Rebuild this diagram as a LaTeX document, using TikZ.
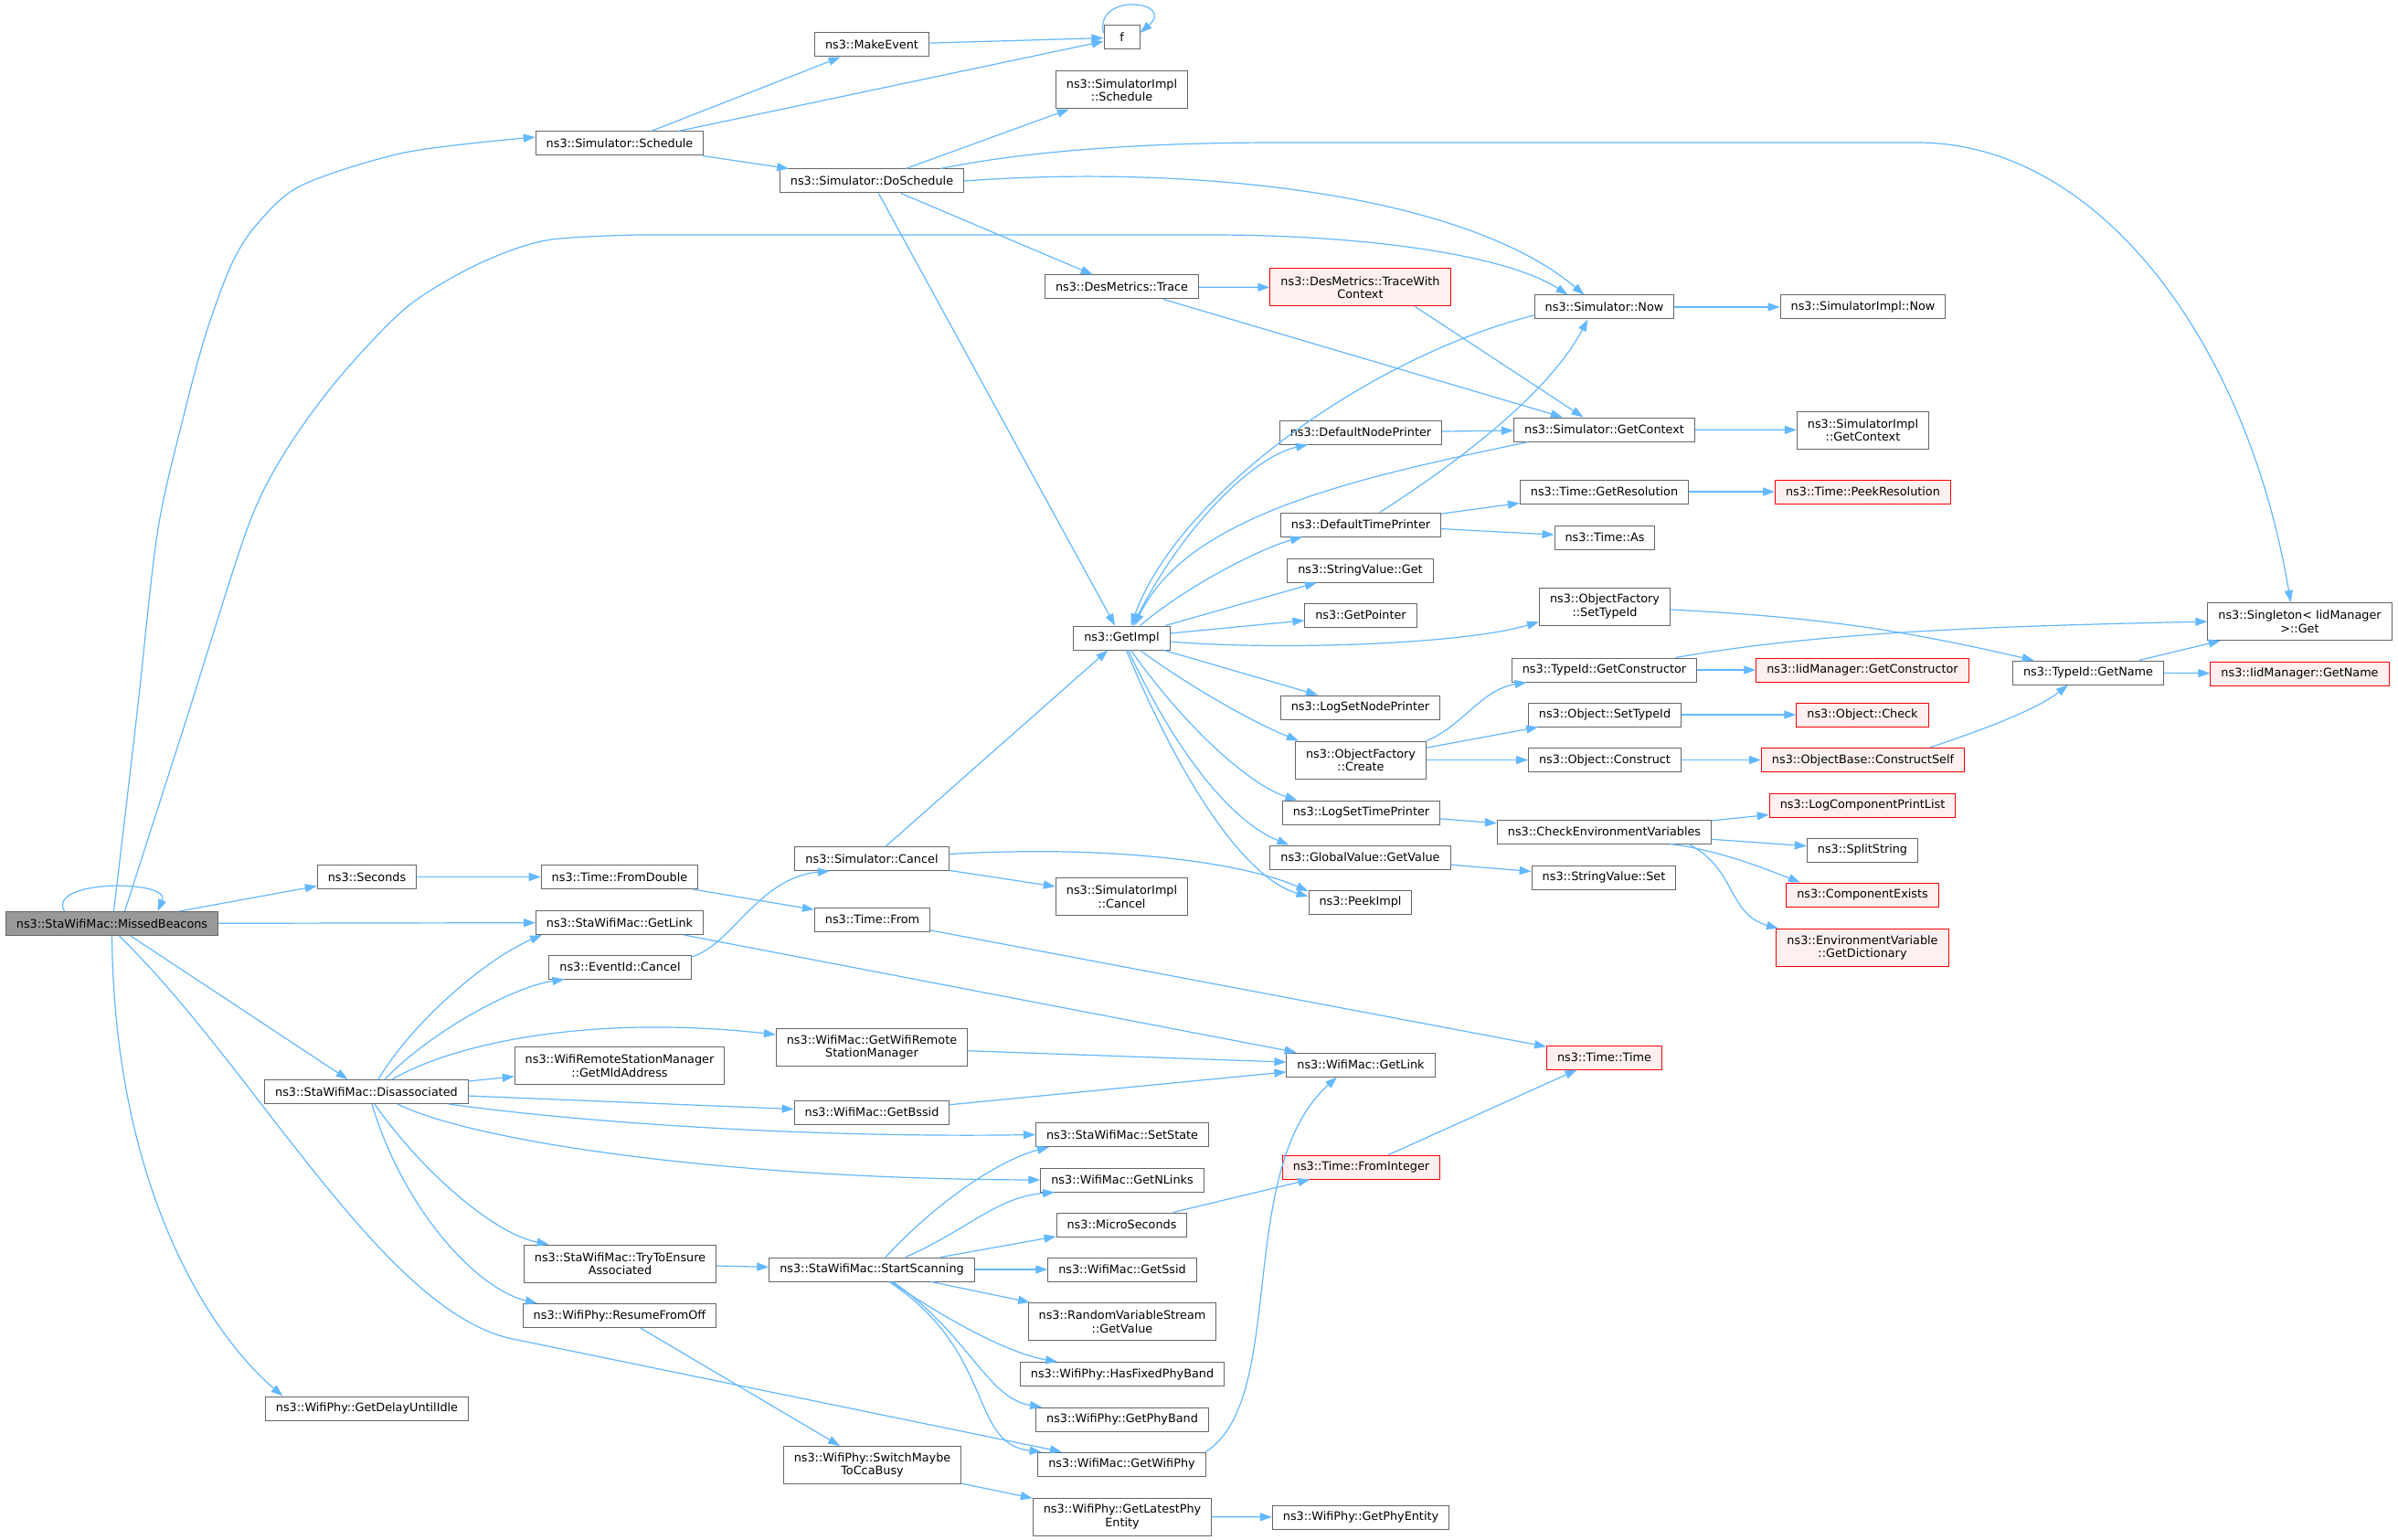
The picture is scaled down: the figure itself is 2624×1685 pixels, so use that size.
\documentclass[tikz,border=0pt]{standalone}
\usepackage{fontspec}
\setmainfont{DejaVu Sans}
\usetikzlibrary{arrows.meta}
\definecolor{edgeblue}{HTML}{63B8FF}
\definecolor{boxgray}{HTML}{666666}
\definecolor{curfill}{HTML}{999999}
\definecolor{redline}{HTML}{FF0000}
\definecolor{redfill}{HTML}{FFF0F0}
\begin{document}
\begin{tikzpicture}[x=1pt,y=-1pt,
    fn/.style={draw=boxgray,fill=white,line width=1pt,inner xsep=11.5pt,inner ysep=6pt,minimum height=26pt,align=center,font=\fontsize{12.8pt}{14.5pt}\selectfont},
    cur/.style={fn,fill=curfill},
    trunc/.style={fn,draw=redline,fill=redfill},
    dbl/.style={minimum height=41pt},
    call/.style={draw=edgeblue,line width=1.2pt,-{Triangle[length=13pt,width=9pt]}}]
  \fill[white] (0,0) rectangle (2624,1685);
  \useasboundingbox (0,0) rectangle (2624,1685);

  \node[cur] (mb) at (122.5,1010.5) {ns3::StaWifiMac::MissedBeacons};
  \node[fn] (sched) at (678,157) {ns3::Simulator::Schedule};
  \node[fn] (mkev) at (954,49) {ns3::MakeEvent};
  \node[fn,minimum width=39pt] (f) at (1227.5,41) {f};
  \node[fn] (dosched) at (954,198) {ns3::Simulator::DoSchedule};
  \node[fn,dbl] (simplsched) at (1227.5,98.5) {ns3::SimulatorImpl\\::Schedule};
  \node[fn] (trace) at (1227.5,314) {ns3::DesMetrics::Trace};
  \node[trunc,dbl] (tracectx) at (1488.5,314.5) {ns3::DesMetrics::TraceWith\\Context};
  \node[fn] (now) at (1755.5,336) {ns3::Simulator::Now};
  \node[fn] (implnow) at (2038.5,336) {ns3::SimulatorImpl::Now};
  \node[fn] (nodeprn) at (1489,473) {ns3::DefaultNodePrinter};
  \node[fn] (getctx) at (1755.5,470) {ns3::Simulator::GetContext};
  \node[fn,dbl] (implctx) at (2038.5,470.5) {ns3::SimulatorImpl\\::GetContext};
  \node[fn] (getres) at (1755.5,538) {ns3::Time::GetResolution};
  \node[trunc] (peekres) at (2038.5,538) {ns3::Time::PeekResolution};
  \node[fn] (timeprn) at (1489,574) {ns3::DefaultTimePrinter};
  \node[fn] (timeas) at (1756,588) {ns3::Time::As};
  \node[fn] (strget) at (1488.5,624) {ns3::StringValue::Get};
  \node[fn,dbl] (ofsettid) at (1756,663.5) {ns3::ObjectFactory\\::SetTypeId};
  \node[fn] (getptr) at (1489,673) {ns3::GetPointer};
  \node[fn] (getimpl) at (1227.5,698) {ns3::GetImpl};
  \node[fn,dbl] (singleton) at (2516.5,680) {ns3::Singleton< IidManager\\ >::Get};
  \node[fn] (getctor) at (1755.5,733) {ns3::TypeId::GetConstructor};
  \node[trunc] (iidctor) at (2038,733) {ns3::IidManager::GetConstructor};
  \node[fn] (getname) at (2285,736) {ns3::TypeId::GetName};
  \node[trunc] (iidname) at (2516.5,737) {ns3::IidManager::GetName};
  \node[fn] (lognode) at (1488.5,774) {ns3::LogSetNodePrinter};
  \node[fn] (objsettid) at (1756,782) {ns3::Object::SetTypeId};
  \node[trunc] (objcheck) at (2038,782) {ns3::Object::Check};
  \node[fn,dbl] (ofcreate) at (1489,831.5) {ns3::ObjectFactory\\::Create};
  \node[fn] (objcons) at (1756,831.5) {ns3::Object::Construct};
  \node[trunc] (cself) at (2038.5,831.5) {ns3::ObjectBase::ConstructSelf};
  \node[trunc] (logcpl) at (2038,881) {ns3::LogComponentPrintList};
  \node[fn] (logtime) at (1489.5,889) {ns3::LogSetTimePrinter};
  \node[fn] (checkenv) at (1755.5,910) {ns3::CheckEnvironmentVariables};
  \node[fn] (split) at (2038,930) {ns3::SplitString};
  \node[fn] (gvget) at (1488.5,938) {ns3::GlobalValue::GetValue};
  \node[fn] (strset) at (1755,960) {ns3::StringValue::Set};
  \node[trunc] (compex) at (2038,979) {ns3::ComponentExists};
  \node[fn,dbl] (implcancel) at (1227.5,981) {ns3::SimulatorImpl\\::Cancel};
  \node[fn] (peekimpl) at (1488.5,987) {ns3::PeekImpl};
  \node[trunc,dbl] (envdict) at (2038,1037) {ns3::EnvironmentVariable\\::GetDictionary};
  \node[fn] (seconds) at (401.5,959.5) {ns3::Seconds};
  \node[fn] (fromdbl) at (678,959.5) {ns3::Time::FromDouble};
  \node[fn] (simcancel) at (954,939.5) {ns3::Simulator::Cancel};
  \node[fn] (timefrom) at (954.5,1006) {ns3::Time::From};
  \node[fn] (stagetlink) at (678,1009.5) {ns3::StaWifiMac::GetLink};
  \node[fn] (evcancel) at (678.5,1058) {ns3::EventId::Cancel};
  \node[fn,dbl] (getrsm) at (954,1146) {ns3::WifiMac::GetWifiRemote\\StationManager};
  \node[fn,dbl] (mldaddr) at (678,1166) {ns3::WifiRemoteStationManager\\::GetMldAddress};
  \node[fn] (disassoc) at (401,1194.5) {ns3::StaWifiMac::Disassociated};
  \node[fn] (bssid) at (954,1217) {ns3::WifiMac::GetBssid};
  \node[fn,dbl] (trytoens) at (678.5,1382.5) {ns3::StaWifiMac::TryToEnsure\\Associated};
  \node[fn] (startscan) at (954,1389) {ns3::StaWifiMac::StartScanning};
  \node[fn] (resume) at (678,1439.5) {ns3::WifiPhy::ResumeFromOff};
  \node[fn] (delayidle) at (401.5,1541) {ns3::WifiPhy::GetDelayUntilIdle};
  \node[fn,dbl] (ccabusy) at (954.5,1603) {ns3::WifiPhy::SwitchMaybe\\ToCcaBusy};
  \node[fn] (wmgetlink) at (1489,1165) {ns3::WifiMac::GetLink};
  \node[trunc] (timetime) at (1755.5,1157) {ns3::Time::Time};
  \node[fn] (setstate) at (1228,1241.5) {ns3::StaWifiMac::SetState};
  \node[trunc] (frominteger) at (1489.5,1277) {ns3::Time::FromInteger};
  \node[fn] (getnlinks) at (1228,1291) {ns3::WifiMac::GetNLinks};
  \node[fn] (micro) at (1227.5,1340) {ns3::MicroSeconds};
  \node[fn] (getssid) at (1228,1389) {ns3::WifiMac::GetSsid};
  \node[fn,dbl] (rvsget) at (1228,1446) {ns3::RandomVariableStream\\::GetValue};
  \node[fn] (hasfixed) at (1228,1503.5) {ns3::WifiPhy::HasFixedPhyBand};
  \node[fn] (getband) at (1228,1553) {ns3::WifiPhy::GetPhyBand};
  \node[fn] (getwifiphy) at (1227.5,1602) {ns3::WifiMac::GetWifiPhy};
  \node[fn,dbl] (latestphy) at (1228,1659.5) {ns3::WifiPhy::GetLatestPhy\\Entity};
  \node[fn] (phyentity) at (1489,1660) {ns3::WifiPhy::GetPhyEntity};

  \draw[call] ([xshift=-52]mb.north) .. controls +(-20,-35) and +(15,-35) .. ([xshift=50]mb.north);
  \draw[call] plot[smooth] coordinates {([xshift=2]mb.north) (150,780) (172.7,580) (203,447) (226,363) (253,290) (280,246.7) (329.6,203) (444,166.7) ([yshift=7]sched.west)};
  \draw[call] plot[smooth] coordinates {([xshift=14]mb.north) (203,790) (270,580) (310.5,497) (368,417) (444,337) (521,290) (597.5,263) (700,257)} -- (1324,257) .. controls (1500,257) and (1650,280) .. ([xshift=-40]now.north);
  \draw[call] (mb) -- (seconds);
  \draw[call] (mb) -- (stagetlink);
  \draw[call] (mb) -- (disassoc);
  \draw[call] ([xshift=8]mb.south) .. controls (280,1170) and (420,1436) .. (561,1465) -- (getwifiphy);
  \draw[call] (mb.south) .. controls (125,1300) and (230,1460) .. ([xshift=-92]delayidle.north);

  \draw[call] (sched) -- (mkev);
  \draw[call] (sched) -- (f);
  \draw[call] (mkev) -- (f);
  \draw[call] ([yshift=5]f.west) .. controls +(-10,-45) and +(40,-35) .. ([yshift=5]f.east);
  \draw[call] (sched) -- (dosched);

  \draw[call] (dosched) -- (simplsched);
  \draw[call] ([xshift=75]dosched.north) .. controls (1150,160) and (1300,156) .. (1400,156) -- (2098,156) .. controls (2300,156) and (2460,380) .. ([xshift=-10]singleton.north);
  \draw[call] (dosched.east) .. controls (1300,180) and (1600,210) .. ([xshift=-22]now.north);
  \draw[call] (dosched) -- (trace);
  \draw[call] (dosched) -- (getimpl);

  \draw[call] (trace) -- (tracectx);
  \draw[call] (trace) -- (getctx);
  \draw[call] ([xshift=60]tracectx.south) -- ([xshift=-23]getctx.north);
  \draw[call] (now) -- (implnow);
  \draw[call] ([yshift=-9]now.west) .. controls (1500,390) and (1290,540) .. ([xshift=10]getimpl.north);
  \draw[call] (getctx) -- (implctx);
  \draw[call] ([xshift=-83]getctx.south) .. controls (1500,520) and (1300,560) .. ([xshift=14]getimpl.north);
  \draw[call] (nodeprn) -- (getctx);

  \draw[call] ([xshift=12]getimpl.north) .. controls (1290,580) and (1370,500) .. ([xshift=-58]nodeprn.south);
  \draw[call] ([xshift=20]getimpl.north) .. controls (1300,640) and (1380,600) .. ([xshift=-64]timeprn.south);
  \draw[call] ([xshift=21]timeprn.north) .. controls (1620,490) and (1700,420) .. ([xshift=-18]now.south);
  \draw[call] (timeprn) -- (getres);
  \draw[call] (timeprn) -- (timeas);
  \draw[call] (getres) -- (peekres);
  \draw[call] (getimpl) -- (strget);
  \draw[call] (getimpl) -- (getptr);
  \draw[call] ([yshift=-4]getimpl.east) .. controls (1400,712) and (1600,705) .. ([yshift=-17]ofsettid.west);
  \draw[call] (getimpl) -- (lognode);
  \draw[call] ([xshift=20]getimpl.south) .. controls (1300,750) and (1370,790) .. ([xshift=-68]ofcreate.north);
  \draw[call] ([xshift=10]getimpl.south) .. controls (1300,800) and (1370,860) .. ([xshift=-70]logtime.north);
  \draw[call] ([xshift=7]getimpl.south) .. controls (1290,830) and (1350,900) .. ([xshift=-78]gvget.north);
  \draw[call] ([xshift=5]getimpl.south) .. controls (1290,850) and (1360,960) .. ([yshift=6]peekimpl.west);

  \draw[call] (ofsettid) to[bend left=5] (getname);
  \draw[call] (ofcreate.north east) .. controls (1600,795) and (1620,755) .. ([xshift=-85]getctor.south);
  \draw[call] (ofcreate) -- (objsettid);
  \draw[call] (ofcreate) -- (objcons);
  \draw[call] (getctor) -- (iidctor);
  \draw[call] ([xshift=78]getctor.north) .. controls (2000,690) and (2200,685) .. (singleton.west);
  \draw[call] (objsettid) -- (objcheck);
  \draw[call] (objcons) -- (cself);
  \draw[call] ([xshift=73]cself.north) .. controls (2180,795) and (2230,775) .. ([xshift=-22]getname.south);
  \draw[call] (getname) -- (iidname);
  \draw[call] (getname) -- (singleton);

  \draw[call] (logtime) -- (checkenv);
  \draw[call] (checkenv) -- (logcpl);
  \draw[call] (checkenv) -- (split);
  \draw[call] ([xshift=72]checkenv.south) .. controls (1880,930) and (1930,950) .. ([xshift=-68]compex.north);
  \draw[call] ([xshift=92]checkenv.south) .. controls (1900,950) and (1890,1000) .. ([xshift=-92]envdict.north);
  \draw[call] (gvget) -- (strset);

  \draw[call] (simcancel) -- (getimpl);
  \draw[call] ([yshift=5]simcancel.east) .. controls (1200,925) and (1350,940) .. ([yshift=12]peekimpl.west);
  \draw[call] (simcancel) -- (implcancel);
  \draw[call] (seconds) -- (fromdbl);
  \draw[call] (fromdbl) -- (timefrom);
  \draw[call] (timefrom) -- (timetime);
  \draw[call] (stagetlink) -- (wmgetlink);
  \draw[call] ([yshift=11]evcancel.east) .. controls (800,1035) and (830,960) .. ([xshift=-46]simcancel.south);

  \draw[call] ([xshift=13]disassoc.north) .. controls (450,1120) and (530,1050) .. ([xshift=-85]stagetlink.south);
  \draw[call] ([xshift=20]disassoc.north) .. controls (470,1130) and (560,1080) .. ([xshift=-61]evcancel.south);
  \draw[call] ([xshift=28]disassoc.north) .. controls (500,1140) and (650,1110) .. ([yshift=14]getrsm.west);
  \draw[call] (disassoc) -- (mldaddr);
  \draw[call] (disassoc) -- (bssid);
  \draw[call] ([xshift=90]disassoc.south) .. controls (650,1230) and (900,1245) .. (setstate.west);
  \draw[call] ([xshift=34]disassoc.south) .. controls (520,1250) and (800,1290) .. (getnlinks.west);
  \draw[call] ([xshift=9]disassoc.south) .. controls (460,1280) and (540,1350) .. ([xshift=-78]trytoens.north);
  \draw[call] ([xshift=6]disassoc.south) .. controls (440,1320) and (520,1410) .. ([xshift=-90]resume.north);
  \draw[call] (trytoens) -- (startscan);
  \draw[call] (resume) -- (ccabusy);

  \draw[call] ([xshift=15]startscan.north) .. controls (1020,1320) and (1090,1270) .. ([xshift=-80]setstate.south);
  \draw[call] ([xshift=37]startscan.north) .. controls (1060,1345) and (1090,1310) .. ([xshift=-74]getnlinks.south);
  \draw[call] (startscan) -- (micro);
  \draw[call] (startscan) -- (getssid);
  \draw[call] (startscan) -- (rvsget);
  \draw[call] ([xshift=21]startscan.south) .. controls (1030,1440) and (1100,1480) .. ([xshift=-71]hasfixed.north);
  \draw[call] ([xshift=23]startscan.south) .. controls (1060,1460) and (1080,1530) .. ([xshift=-88]getband.north);
  \draw[call] ([xshift=19]startscan.south) .. controls (1090,1480) and (1060,1580) .. ([xshift=-88]getwifiphy.north);
  \draw[call] (micro) -- (frominteger);
  \draw[call] (frominteger) -- (timetime);
  \draw[call] ([xshift=92]getwifiphy.north) .. controls (1410,1530) and (1350,1280) .. ([xshift=-26]wmgetlink.south);
  \draw[call] (getrsm) -- (wmgetlink);
  \draw[call] (bssid) -- (wmgetlink);
  \draw[call] (ccabusy) -- (latestphy);
  \draw[call] (latestphy) -- (phyentity);
\end{tikzpicture}
\end{document}
